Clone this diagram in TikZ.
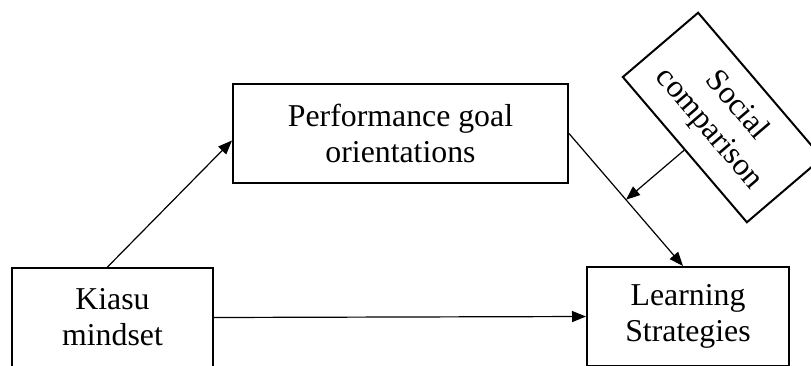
\documentclass[tikz,border=0pt]{standalone}
\usepackage{fontspec}
\setmainfont{Liberation Serif}
\usetikzlibrary{arrows.meta}
\begin{document}
\begin{tikzpicture}[x=1pt,y=-1pt,
  box/.style={draw, line width=2pt, align=center, inner sep=0pt,
    font=\fontsize{31.8}{36}\selectfont},
  link/.style={line width=1.2pt, -{Triangle[length=14pt,width=11pt]}}]
\useasboundingbox (0,0) rectangle (811,365);
\clip (0,0) rectangle (811,365);
% construct boxes
\node[box, minimum width=335pt, minimum height=99pt] (perf) at (400.5,133.5)
  {Performance goal\\orientations};
\node[box, minimum width=201pt, minimum height=99pt] (kiasu) at (112.5,317.5)
  {Kiasu\\mindset};
\node[box, minimum width=202pt, minimum height=99pt] (learn) at (688,316.5)
  {Learning\\Strategies};
% moderator, tilted along its long side
\node[box, rotate=-49.5, minimum width=191pt, minimum height=99pt] (soc) at (722.5,117.5)
  {Social\\comparison};
% paths
\draw[link] ([xshift=-5pt]kiasu.north) -- ([yshift=-7pt]perf.west);
\draw[link] (kiasu.east) -- (learn.west);
\draw[link] (perf.east) -- coordinate[pos=0.5] (mod) ([xshift=-5pt]learn.north);
\draw[link] (soc) -- (mod);
\end{tikzpicture}
\end{document}
